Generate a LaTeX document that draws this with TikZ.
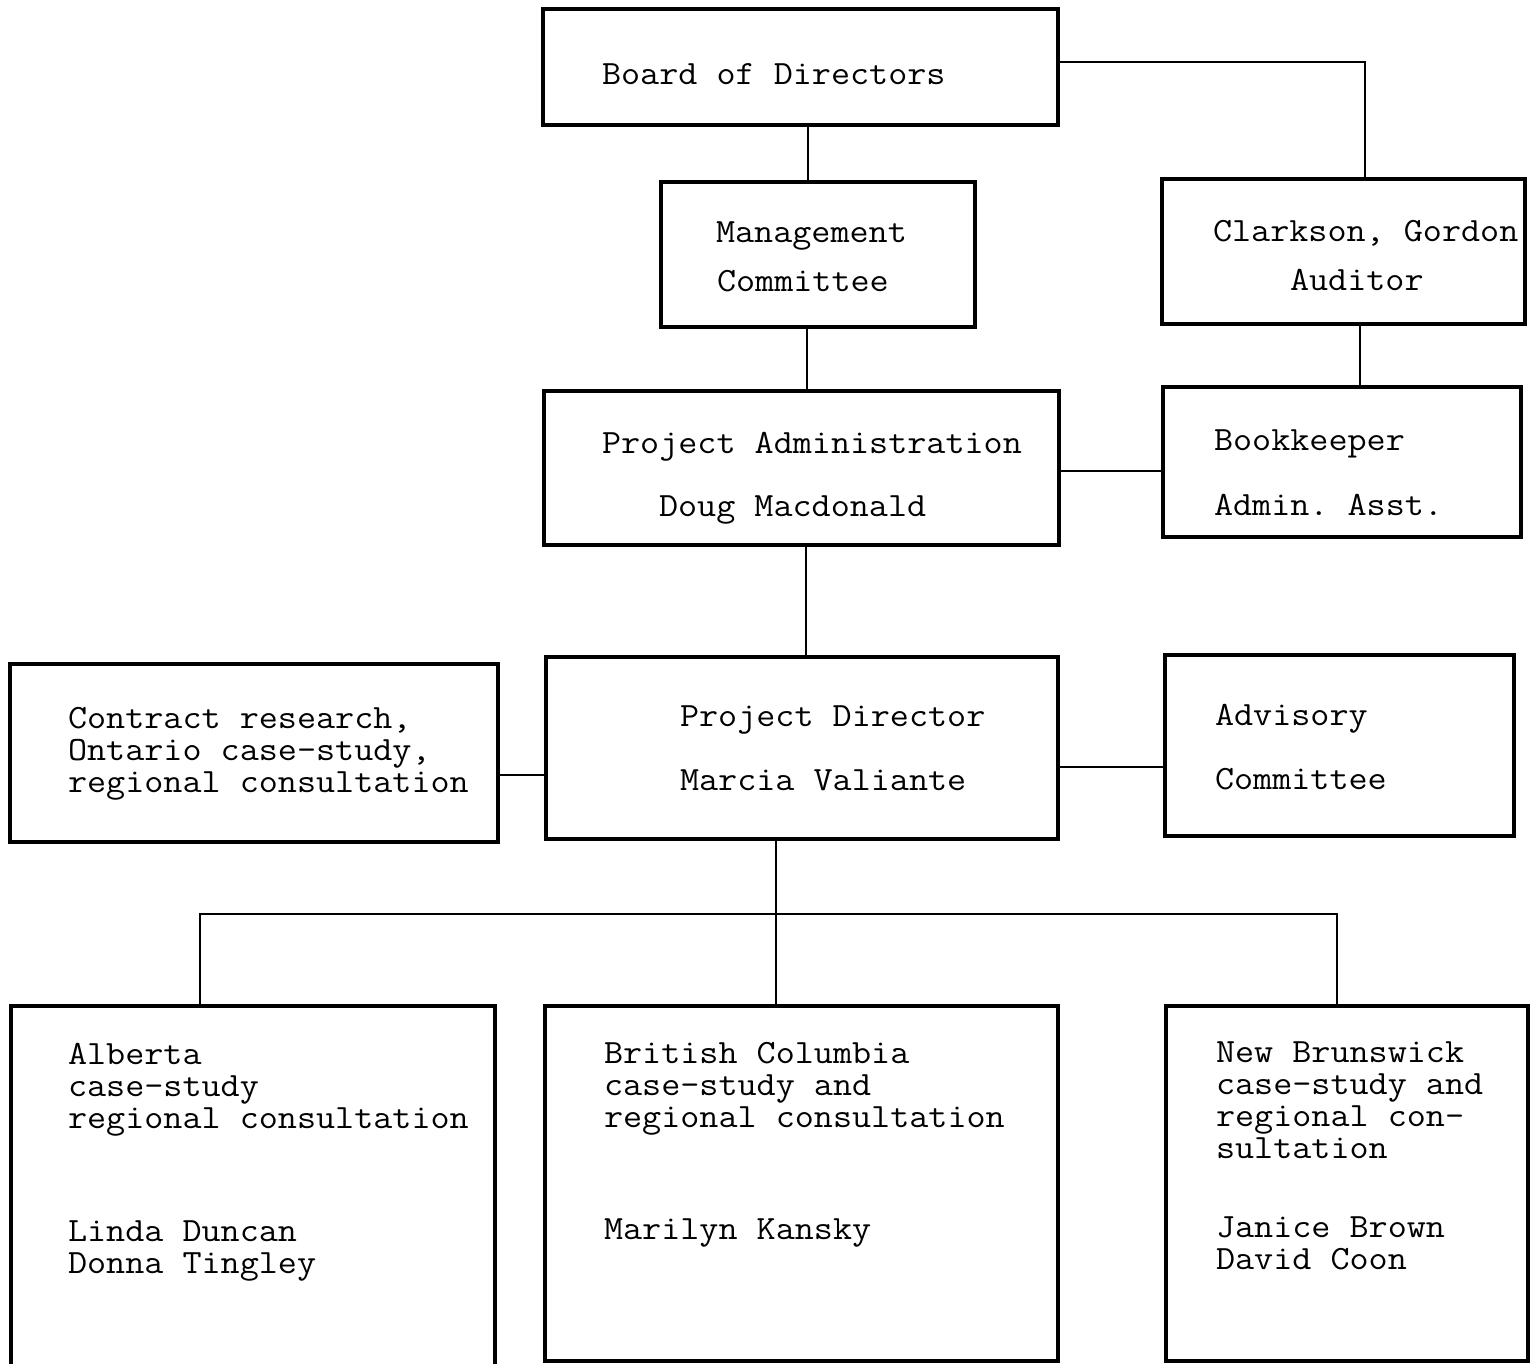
\documentclass[tikz,border=0pt]{standalone}
\usepackage{fontspec}
\setmonofont[FakeStretch=1.09]{Latin Modern Mono}
\begin{document}
\begin{tikzpicture}[x=1pt,y=-1pt,
  box/.style={draw=black, line width=3.2pt, anchor=north west, inner sep=0pt, outer sep=0pt},
  conn/.style={draw=black, line width=2.4pt},
  txt/.style={anchor=base west, inner sep=0pt, outer sep=0pt, text height=22pt, text depth=7pt,
    font=\fontsize{34}{34}\selectfont\ttfamily}]
\useasboundingbox (0,0) rectangle (1535,1364);
% boxes
\node[box, minimum width=515pt, minimum height=116pt] (board) at (543,9) {};
\node[box, minimum width=314pt, minimum height=145pt] (mgmt) at (661,182) {};
\node[box, minimum width=363pt, minimum height=145pt] (clark) at (1162,179) {};
\node[box, minimum width=515pt, minimum height=154pt] (padm) at (544,391) {};
\node[box, minimum width=358pt, minimum height=150pt] (book) at (1163,387) {};
\node[box, minimum width=488pt, minimum height=178pt] (contr) at (10,664) {};
\node[box, minimum width=512pt, minimum height=182pt] (pdir) at (546,657) {};
\node[box, minimum width=349pt, minimum height=181pt] (adv) at (1165,655) {};
\node[box, minimum width=484pt, minimum height=370pt] (alb) at (11,1006) {};
\node[box, minimum width=513pt, minimum height=355pt] (bc) at (545,1006) {};
\node[box, minimum width=362pt, minimum height=355pt] (nb) at (1166,1006) {};
% texts
\node[txt] (tboard) at (602,85) {Board of Directors};
\node[txt] (tmg1) at (716,243) {Management};
\node[txt] (tmg2) at (717,292) {Committee};
\node[txt] (tcl1) at (1213,242) {Clarkson, Gordon};
\node[txt] (tcl2) at (1290,291) {Auditor};
\node[txt] (tpa1) at (602,453) {Project Administration};
\node[txt] (tpa2) at (659,516) {Doug Macdonald};
\node[txt] (tbk1) at (1214,450) {Bookkeeper};
\node[txt] (tbk2) at (1214,515) {Admin. Asst.};
\node[txt] (tco1) at (68,728) {Contract research,};
\node[txt] (tco2) at (68,760) {Ontario case-study,};
\node[txt] (tco3) at (68,792) {regional consultation};
\node[txt] (tpd1) at (680,726) {Project Director};
\node[txt] (tpd2) at (680,790) {Marcia Valiante};
\node[txt] (tad1) at (1215,725) {Advisory};
\node[txt] (tad2) at (1215,789) {Committee};
\node[txt] (tal1) at (68,1064) {Alberta};
\node[txt] (tal2) at (68,1096) {case-study};
\node[txt] (tal3) at (68,1128) {regional consultation};
\node[txt] (tal4) at (68,1241) {Linda Duncan};
\node[txt] (tal5) at (68,1273) {Donna Tingley};
\node[txt] (tbc1) at (604,1063) {British Columbia};
\node[txt] (tbc2) at (604,1095) {case-study and};
\node[txt] (tbc3) at (604,1127) {regional consultation};
\node[txt] (tbc4) at (604,1239) {Marilyn Kansky};
\node[txt] (tnb1) at (1216,1062) {New Brunswick};
\node[txt] (tnb2) at (1216,1094) {case-study and};
\node[txt] (tnb3) at (1216,1126) {regional con-};
\node[txt] (tnb4) at (1216,1158) {sultation};
\node[txt] (tnb5) at (1216,1237) {Janice Brown};
\node[txt] (tnb6) at (1216,1269) {David Coon};
% helper coordinates
\coordinate (xBC) at (1365,62);
\coordinate (xBM) at (808,0);
\coordinate (xMP) at (807,0);
\coordinate (xCB) at (1360,0);
\coordinate (yPB) at (0,471);
\coordinate (xPP) at (806,0);
\coordinate (yCP) at (0,775);
\coordinate (yPA) at (0,767);
\coordinate (xPD) at (776,0);
\coordinate (busL) at (200,914);
\coordinate (busR) at (1337,914);
% connectors
\draw[conn] (board.east |- xBC) -- (xBC) -- (clark.north -| xBC);
\draw[conn] (board.south -| xBM) -- (mgmt.north -| xBM);
\draw[conn] (mgmt.south -| xMP) -- (padm.north -| xMP);
\draw[conn] (clark.south -| xCB) -- (book.north -| xCB);
\draw[conn] (padm.east |- yPB) -- (book.west |- yPB);
\draw[conn] (padm.south -| xPP) -- (pdir.north -| xPP);
\draw[conn] (contr.east |- yCP) -- (pdir.west |- yCP);
\draw[conn] (pdir.east |- yPA) -- (adv.west |- yPA);
\draw[conn] (pdir.south -| xPD) -- (bc.north -| xPD);
\draw[conn] (alb.north -| busL) -- (busL) -- (busR) -- (nb.north -| busR);
\end{tikzpicture}
\end{document}
